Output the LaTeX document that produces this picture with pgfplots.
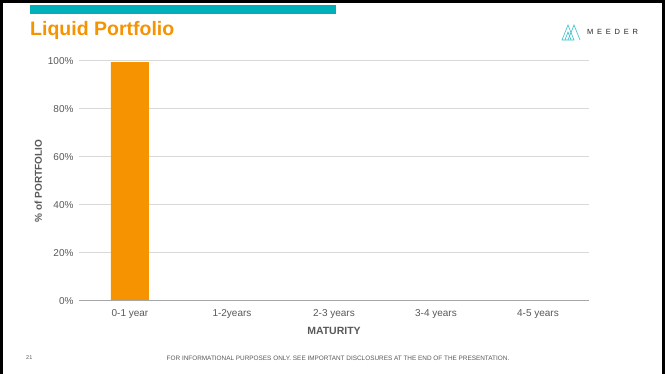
\documentclass[border=0pt]{standalone}
\usepackage{pgfplots}
\pgfplotsset{compat=1.18}
\usepackage{fontspec}
\setmainfont{Liberation Sans}
\newfontfamily\logofont[LetterSpace=50]{Liberation Sans}
\definecolor{teal1}{HTML}{00B0B9}
\definecolor{orng}{HTML}{F59300}
\definecolor{txtgray}{HTML}{595959}
\definecolor{gridgray}{HTML}{D9D9D9}
\begin{document}
\begin{tikzpicture}[x=1pt,y=1pt]
\useasboundingbox (0,0) rectangle (665,-374);
\fill[white] (0,0) rectangle (665,-374);
% frame
\fill[black] (0,0) rectangle (3,-374);
\fill[black] (0,0) rectangle (665,-3);
\fill[black] (662,0) rectangle (665,-374);
% header bar
\fill[teal1] (30,-5) rectangle (336,-14);
\node[anchor=base west, inner sep=0pt, text=orng, font=\fontsize{19.5}{22}\selectfont\bfseries] at (30,-35.5) {Liquid Portfolio};
% logo
\begin{scope}[line width=0.6pt, teal1!80]
\draw (562,-40) -- (568,-25) -- (574,-40) -- cycle;
\draw (568,-40) -- (574,-25) -- (580,-40);
\draw (565,-40) -- (568,-32) -- (571,-40);
\end{scope}
\node[anchor=west, inner sep=0pt, text=black!85, font=\logofont\fontsize{7.5}{8}\selectfont] at (587,-32) {MEEDER};
% chart
\begin{axis}[
  at={(79pt,-301pt)}, anchor=south west,
  scale only axis, width=510pt, height=240pt,
  xmin=-0.5, xmax=4.5, ymin=0, ymax=100,
  xtick={0,1,2,3,4},
  xticklabels={0-1 year,1-2years,2-3 years,3-4 years,4-5 years},
  ytick={0,20,40,60,80,100},
  yticklabel={\pgfmathprintnumber{\tick}\%},
  /pgf/number format/assume math mode=true,
  ymajorgrids, grid style={gridgray, line width=1pt},
  axis line style={draw=none}, tick style={draw=none},
  ticklabel style={font=\fontsize{10}{12}\selectfont, text=txtgray},
  xticklabel style={yshift=-5pt},
  yticklabel style={xshift=-2pt},
  xlabel={\bfseries MATURITY},
  xlabel style={font=\fontsize{10.5}{12}\selectfont, text=txtgray, yshift=-2pt},
  ylabel={\bfseries \% of PORTFOLIO},
  ylabel style={font=\fontsize{10}{12}\selectfont, text=txtgray, yshift=-1pt},
  clip=false,
]
\addplot[ybar, bar width=38pt, fill=orng, draw=none] coordinates {(0,99.5) (1,0) (2,0) (3,0) (4,0)};
\draw[gray!70, line width=1pt] (rel axis cs:0,0) -- (rel axis cs:1,0);
\end{axis}
% footer
\node[anchor=base west, inner sep=0pt, text=txtgray, font=\fontsize{5.5}{6}\selectfont] at (26,-360) {21};
\node[anchor=base, inner sep=0pt, text=txtgray, font=\fontsize{6.4}{7}\selectfont] at (338,-361) {FOR INFORMATIONAL PURPOSES ONLY. SEE IMPORTANT DISCLOSURES AT THE END OF THE PRESENTATION.};
\end{tikzpicture}
\end{document}
